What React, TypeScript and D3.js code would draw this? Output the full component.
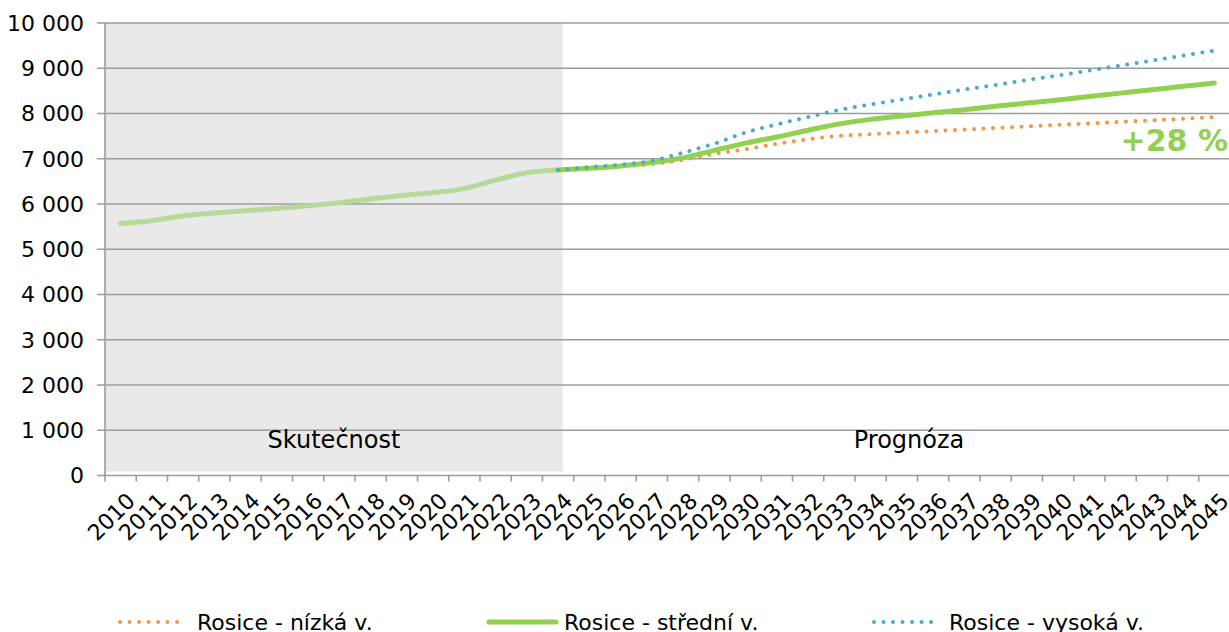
import React from "react";
import * as d3 from "d3";

const years: number[] = d3.range(2010, 2046);
const histYears = [2010, 2011, 2012, 2013, 2014, 2015, 2016, 2017, 2018, 2019, 2020, 2021, 2022, 2023, 2024];
const histValues = [5570, 5630, 5740, 5800, 5850, 5900, 5960, 6030, 6110, 6190, 6250, 6340, 6530, 6690, 6750];
const fcYears = [2024, 2025, 2026, 2027, 2028, 2029, 2030, 2031, 2032, 2033, 2034, 2035, 2036, 2037, 2038, 2039, 2040, 2041, 2042, 2043, 2044, 2045];
const lowValues = [6750, 6790, 6830, 6880, 6975, 7110, 7210, 7330, 7430, 7505, 7545, 7580, 7610, 7645, 7680, 7715, 7750, 7780, 7815, 7850, 7885, 7920];
const midValues = [6750, 6790, 6840, 6915, 7020, 7185, 7345, 7480, 7630, 7770, 7870, 7945, 8015, 8085, 8160, 8230, 8300, 8375, 8450, 8525, 8600, 8675];
const highValues = [6750, 6815, 6870, 6955, 7135, 7335, 7580, 7760, 7920, 8080, 8200, 8310, 8420, 8530, 8630, 8740, 8840, 8950, 9060, 9170, 9280, 9390];
const yTicks = [0, 1000, 2000, 3000, 4000, 5000, 6000, 7000, 8000, 9000, 10000];
const legendLabels = ["Rosice - nízká v.", "Rosice - střední v.", "Rosice - vysoká v."];
const regionLabels = ["Skutečnost", "Prognóza"];
const changeLabel = "+28 %";

const W = 1229;
const H = 632;
const FONT = "'DejaVu Sans', Verdana, sans-serif";
const C_LOW = "#f79646";
const C_MID = "#92d050";
const C_HIST = "#b6d89b";
const C_HIGH = "#4bacc6";
const GRID = "#9c9c9c";

const fmt = (v: number) => {
  const s = String(v);
  return s.replace(/\B(?=(\d{3})+(?!\d))/g, " ");
};

export default function App() {
  const x = d3.scaleBand<number>().domain(years).range([105, 1230]).padding(0);
  const y = d3.scaleLinear().domain([0, 10000]).range([475.5, 23]);
  const cx = (yr: number) => (x(yr) as number) + x.bandwidth() / 2;
  const line = d3
    .line<[number, number]>()
    .x((d) => cx(d[0]))
    .y((d) => y(d[1]))
    .curve(d3.curveMonotoneX);

  const hist = line(histYears.map((yr, i) => [yr, histValues[i]] as [number, number])) || "";
  const low = line(fcYears.map((yr, i) => [yr, lowValues[i]] as [number, number])) || "";
  const mid = line(fcYears.map((yr, i) => [yr, midValues[i]] as [number, number])) || "";
  const high = line(fcYears.map((yr, i) => [yr, highValues[i]] as [number, number])) || "";

  const x0 = x.range()[0];
  const x1 = x.range()[1];
  const greyRight = cx(2024) + x.bandwidth() * 0.15;
  const dots = "0.01 9.5";

  const legendY = 622;
  const legendItems = [
    { x1: 120, x2: 180, tx: 197, color: C_LOW, dash: true, w: 4 },
    { x1: 489, x2: 556, tx: 564, color: C_MID, dash: false, w: 5 },
    { x1: 874, x2: 935, tx: 949, color: C_HIGH, dash: true, w: 4 },
  ];

  return (
    <svg
      width={W}
      height={H}
      style={{ position: "absolute", left: 0, top: 0, display: "block", background: "#fff" }}
      fontFamily={FONT}
    >
      <rect x={x0} y={y(10000)} width={greyRight - x0} height={471.7 - y(10000)} fill="#e9e9e9" />
      {yTicks.map((t) => (
        <g key={t}>
          <line x1={97} x2={x1} y1={y(t)} y2={y(t)} stroke={GRID} strokeWidth={1.6} />
          <text x={84} y={y(t)} dy="0.36em" textAnchor="end" fontSize={22} fill="#000">
            {fmt(t)}
          </text>
        </g>
      ))}
      <line x1={x0} x2={x0} y1={y(10000)} y2={y(0)} stroke={GRID} strokeWidth={1.6} />
      {years.map((yr) => (
        <line
          key={"t" + yr}
          x1={x(yr) as number}
          x2={x(yr) as number}
          y1={y(0)}
          y2={y(0) + 6}
          stroke={GRID}
          strokeWidth={1.6}
        />
      ))}
      {years.map((yr) => (
        <text
          key={"l" + yr}
          transform={`translate(${cx(yr) + 5},${y(0) + 16}) rotate(-45)`}
          textAnchor="end"
          dy="0.7em"
          fontSize={22}
          fill="#000"
        >
          {yr}
        </text>
      ))}
      <text x={334} y={448} textAnchor="middle" fontSize={24} fill="#000">
        {regionLabels[0]}
      </text>
      <text x={909} y={448} textAnchor="middle" fontSize={24} fill="#000">
        {regionLabels[1]}
      </text>

      <path d={hist} fill="none" stroke={C_HIST} strokeWidth={5} strokeLinecap="round" />
      <path d={low} fill="none" stroke={C_LOW} strokeWidth={4} strokeDasharray={dots} strokeLinecap="round" />
      <path d={mid} fill="none" stroke={C_MID} strokeWidth={5} strokeLinecap="round" />
      <path d={high} fill="none" stroke={C_HIGH} strokeWidth={4} strokeDasharray={dots} strokeLinecap="round" />

      <text x={1228} y={151} textAnchor="end" fontSize={30} fontWeight="bold" fill={C_MID}>
        {changeLabel}
      </text>

      {legendItems.map((it, i) => (
        <g key={"lg" + i}>
          <line
            x1={it.x1}
            x2={it.x2}
            y1={legendY}
            y2={legendY}
            stroke={it.color}
            strokeWidth={it.w}
            strokeDasharray={it.dash ? dots : undefined}
            strokeLinecap="round"
          />
          <text x={it.tx} y={legendY} dy="0.36em" fontSize={22} fill="#000">
            {legendLabels[i]}
          </text>
        </g>
      ))}
    </svg>
  );
}
